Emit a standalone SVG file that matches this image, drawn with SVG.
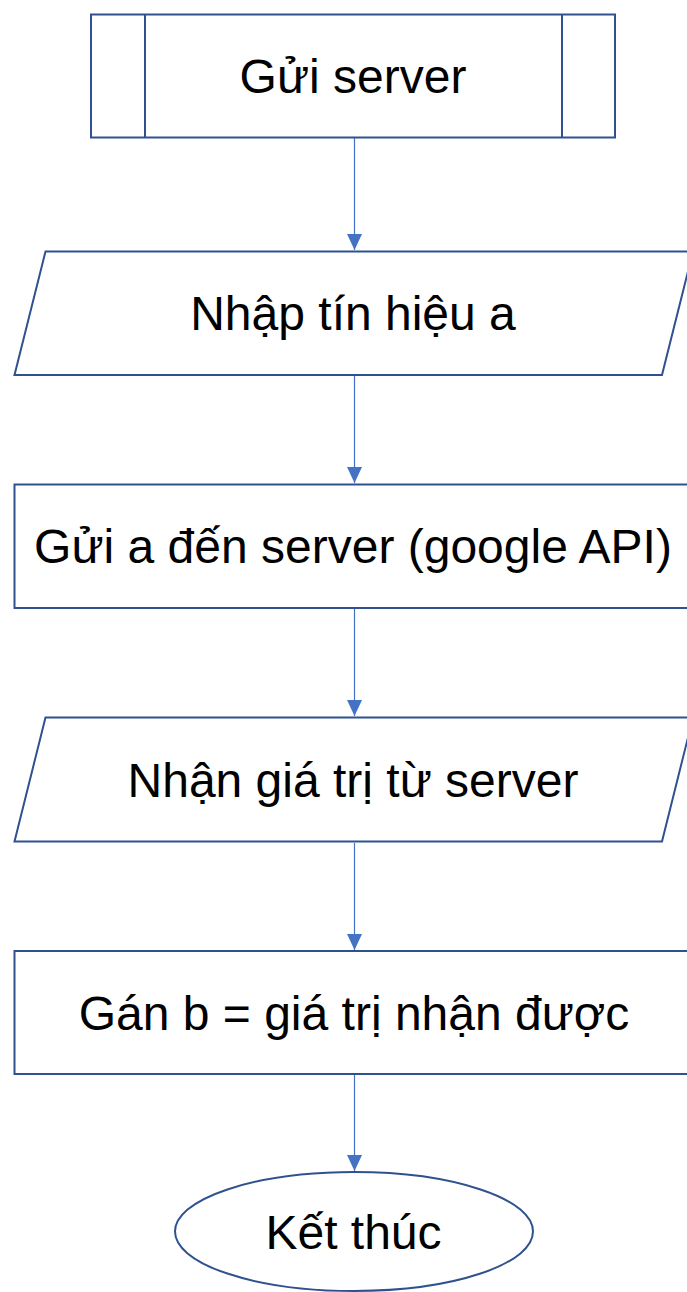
<svg xmlns="http://www.w3.org/2000/svg" width="687" height="1292" viewBox="0 0 687 1292">
  <defs>
    <style>
      .shape { fill: #ffffff; stroke: #2F528F; stroke-width: 2; }
      .label { font-family: "Liberation Sans", Arial, sans-serif; font-size: 48px; fill: #000000; text-anchor: middle; }
      .flow { stroke: #4472C4; stroke-width: 1.2; fill: none; marker-end: url(#arrow); }
    </style>
    <marker id="arrow" viewBox="0 0 16 15" refX="16" refY="7.5" markerWidth="16" markerHeight="15" markerUnits="userSpaceOnUse" orient="auto">
      <path d="M0,0 L16,7.5 L0,15 z" fill="#4472C4"/>
    </marker>
  </defs>
  <rect width="687" height="1292" fill="#ffffff"/>

  <!-- connectors -->
  <g id="connectors">
    <line class="flow" x1="354.5" y1="138" x2="354.5" y2="250"/>
    <line class="flow" x1="354.5" y1="376" x2="354.5" y2="483"/>
    <line class="flow" x1="354.5" y1="609" x2="354.5" y2="716"/>
    <line class="flow" x1="354.5" y1="843" x2="354.5" y2="950"/>
    <line class="flow" x1="354.5" y1="1075" x2="354.5" y2="1171"/>
  </g>

  <!-- predefined process: Gửi server -->
  <g id="node-send-server">
    <rect class="shape" x="91" y="14.5" width="524" height="123"/>
    <line class="shape" x1="145" y1="14.5" x2="145" y2="137.5"/>
    <line class="shape" x1="562" y1="14.5" x2="562" y2="137.5"/>
    <text class="label" x="353" y="92.5">Gửi server</text>
  </g>

  <!-- input: Nhập tín hiệu a -->
  <g id="node-input-a">
    <polygon class="shape" points="45.5,251.5 693,251.5 662,375 14.5,375"/>
    <text class="label" x="353" y="330">Nhập tín hiệu a</text>
  </g>

  <!-- process: send a to server -->
  <g id="node-send-a">
    <rect class="shape" x="14.5" y="484.5" width="690" height="123.5"/>
    <text class="label" x="353" y="563">Gửi a đến server (google API)</text>
  </g>

  <!-- output: receive value -->
  <g id="node-receive">
    <polygon class="shape" points="45.5,717.5 693,717.5 662,841.5 14.5,841.5"/>
    <text class="label" x="353" y="796.5">Nhận giá trị từ server</text>
  </g>

  <!-- process: assign b -->
  <g id="node-assign-b">
    <rect class="shape" x="14.5" y="951" width="690" height="123"/>
    <text class="label" x="354" y="1029.5">Gán b = giá trị nhận được</text>
  </g>

  <!-- terminator: Kết thúc -->
  <g id="node-end">
    <ellipse class="shape" cx="354" cy="1231.5" rx="179" ry="59.5"/>
    <text class="label" x="353.5" y="1248.5">Kết thúc</text>
  </g>
</svg>
